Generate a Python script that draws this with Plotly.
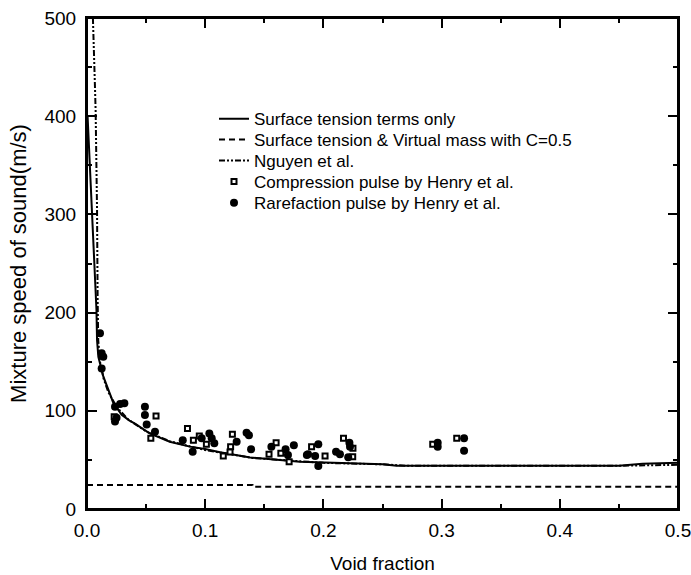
import plotly.graph_objects as go

# Surface tension terms only (solid)
st_x = [0.0005, 0.008, 0.0085, 0.0096, 0.0138, 0.018, 0.0223, 0.0293, 0.036, 0.0406, 0.053, 0.07,
        0.087, 0.1, 0.1125, 0.138, 0.16, 0.18, 0.2225, 0.25, 0.262, 0.3, 0.35, 0.4, 0.45, 0.47, 0.5]
st_y = [400, 203, 172, 155, 135, 121, 108, 96, 90, 87, 77, 68.5,
        63.5, 61, 57.7, 52.5, 50, 48.2, 46.5, 45.5, 44, 44, 44, 44, 44, 46, 47]

# Surface tension & virtual mass (dashed)
vm_x = [0.0, 0.14, 0.14, 0.5]
vm_y = [24.5, 24.5, 22.7, 22.7]

# Nguyen et al. (dash-dot)
ng_x = [0.0050, 0.0055, 0.0065, 0.0073, 0.0080, 0.0085, 0.009, 0.0095, 0.011, 0.014, 0.018, 0.025,
        0.035, 0.05, 0.07, 0.1, 0.14, 0.2, 0.25, 0.27, 0.35, 0.45, 0.5]
ng_y = [500, 470, 440, 406, 350, 304, 213, 172, 150, 133, 119, 104,
        91, 79, 69, 60, 52, 47, 45.5, 44, 44, 44, 45]

# Compression pulse (squares)
cp_x = [0.023, 0.0584, 0.054, 0.085, 0.09, 0.095, 0.101, 0.1153, 0.123, 0.1215, 0.121, 0.154,
        0.16, 0.164, 0.171, 0.190, 0.2014, 0.217, 0.225, 0.2248, 0.2925, 0.3128]
cp_y = [94, 94.7, 72, 82, 70, 74.3, 66, 54, 76, 63.4, 58, 55.7,
        67.5, 56.7, 48.2, 63.4, 54, 72, 61.8, 53.3, 65.9, 72]

# Rarefaction pulse (filled circles)
rf_x = [0.011, 0.0124, 0.0138, 0.0124, 0.0237, 0.025, 0.0237, 0.0316, 0.028, 0.049, 0.049, 0.0505,
        0.0575, 0.081, 0.0894, 0.097, 0.1035, 0.1055, 0.1077, 0.1266, 0.135, 0.137, 0.1388, 0.156,
        0.168, 0.170, 0.175, 0.186, 0.1957, 0.187, 0.193, 0.1957, 0.222, 0.2225, 0.2107, 0.214,
        0.221, 0.2967, 0.2967, 0.319, 0.319]
rf_y = [179, 158.5, 155, 143, 104, 93, 89, 107.6, 107, 104, 95.7, 86,
        78.7, 70, 58.3, 72, 77, 72, 67, 68.5, 77.7, 75, 60.8, 63.4,
        60.8, 55, 65, 55, 65.9, 55.7, 54, 43.8, 67.5, 63.4, 58.3, 55.7,
        52.6, 67.5, 63.4, 72, 59.4]

FONT = "Liberation Sans, Arial, sans-serif"

fig = go.Figure()
fig.add_trace(go.Scatter(x=st_x, y=st_y, mode="lines", name="Surface tension terms only",
                         line=dict(color="black", width=2), legend="legend"))
fig.add_trace(go.Scatter(x=vm_x, y=vm_y, mode="lines", name="Surface tension & Virtual mass with C=0.5",
                         line=dict(color="black", width=2, dash="6px,4px"), legend="legend2"))
fig.add_trace(go.Scatter(x=ng_x, y=ng_y, mode="lines", name="Nguyen et al.",
                         line=dict(color="black", width=2, dash="6px,2px,2px,2px,2px,2px"), legend="legend3"))
fig.add_trace(go.Scatter(x=cp_x, y=cp_y, mode="markers", name="Compression pulse by Henry et al.",
                         marker=dict(symbol="square", size=5, color="white",
                                     line=dict(color="black", width=2)), legend="legend4"))
fig.add_trace(go.Scatter(x=rf_x, y=rf_y, mode="markers", name="Rarefaction pulse by Henry et al.",
                         marker=dict(symbol="circle", size=8, color="black",
                                     line=dict(color="black", width=0)), legend="legend5"))
# empty trace so that the mirrored top/right tick axes get drawn
fig.add_trace(go.Scatter(x=[], y=[], xaxis="x2", yaxis="y2", showlegend=False, hoverinfo="skip"))

axis_common = dict(showline=True, linecolor="black", linewidth=2, mirror=False,
                   ticks="inside", ticklen=10, tickwidth=2, tickcolor="black",
                   showgrid=False, zeroline=False, automargin=False, ticklabeloverflow="allow",
                   tickfont=dict(family=FONT, size=19, color="black"))
mirror_common = dict(showline=True, linecolor="black", linewidth=2, ticks="inside", ticklen=10,
                     tickwidth=2, tickcolor="black", showgrid=False, zeroline=False,
                     showticklabels=False, automargin=False)

fig.update_layout(
    xaxis=dict(range=[0, 0.5], dtick=0.1, tick0=0, tickformat=".1f", ticklabelstandoff=3,
               minor=dict(ticks="inside", ticklen=5, dtick=0.05, tickwidth=2, tickcolor="black"),
               title=dict(text="Void fraction", font=dict(family=FONT, size=19, color="black"),
                          standoff=17),
               **axis_common),
    yaxis=dict(range=[0, 500], dtick=100, tick0=0, ticklabelstandoff=5,
               minor=dict(ticks="inside", ticklen=5, dtick=50, tickwidth=2, tickcolor="black"),
               title=dict(text="Mixture speed of sound(m/s)", font=dict(family=FONT, size=22, color="black"),
                          standoff=12),
               **axis_common),
    xaxis2=dict(overlaying="x", matches="x", side="top", anchor="y2", range=[0, 0.5], dtick=0.1, tick0=0,
                minor=dict(ticks="inside", ticklen=5, dtick=0.05, tickwidth=2, tickcolor="black"),
                **mirror_common),
    yaxis2=dict(overlaying="y", matches="y", side="right", anchor="x2", range=[0, 500], dtick=100, tick0=0,
                minor=dict(ticks="inside", ticklen=5, dtick=50, tickwidth=2, tickcolor="black"),
                **mirror_common),
    shapes=[dict(type="rect", xref="paper", yref="paper", x0=0, x1=1, y0=0, y1=1,
                 line=dict(color="black", width=2), fillcolor="rgba(0,0,0,0)", layer="above")],
)

leg_rows_y = [0.794, 0.7515, 0.7088, 0.666, 0.623]
leg_common = dict(x=0.2149, xanchor="left", yanchor="middle", bgcolor="rgba(0,0,0,0)",
                  borderwidth=0, font=dict(family=FONT, size=17, color="black"))

fig.update_layout(
    width=691, height=575,
    margin=dict(l=87, r=13, t=18, b=66),
    plot_bgcolor="white", paper_bgcolor="white",
    font=dict(family=FONT, size=17, color="black"),
    showlegend=True,
    legend=dict(y=leg_rows_y[0], **leg_common),
    legend2=dict(y=leg_rows_y[1], **leg_common),
    legend3=dict(y=leg_rows_y[2], **leg_common),
    legend4=dict(y=leg_rows_y[3], **leg_common),
    legend5=dict(y=leg_rows_y[4], **leg_common),
)

fig.write_html("out.html", config={"displayModeBar": False},
               post_script="document.body.style.margin='0';document.body.style.overflow='hidden';")
